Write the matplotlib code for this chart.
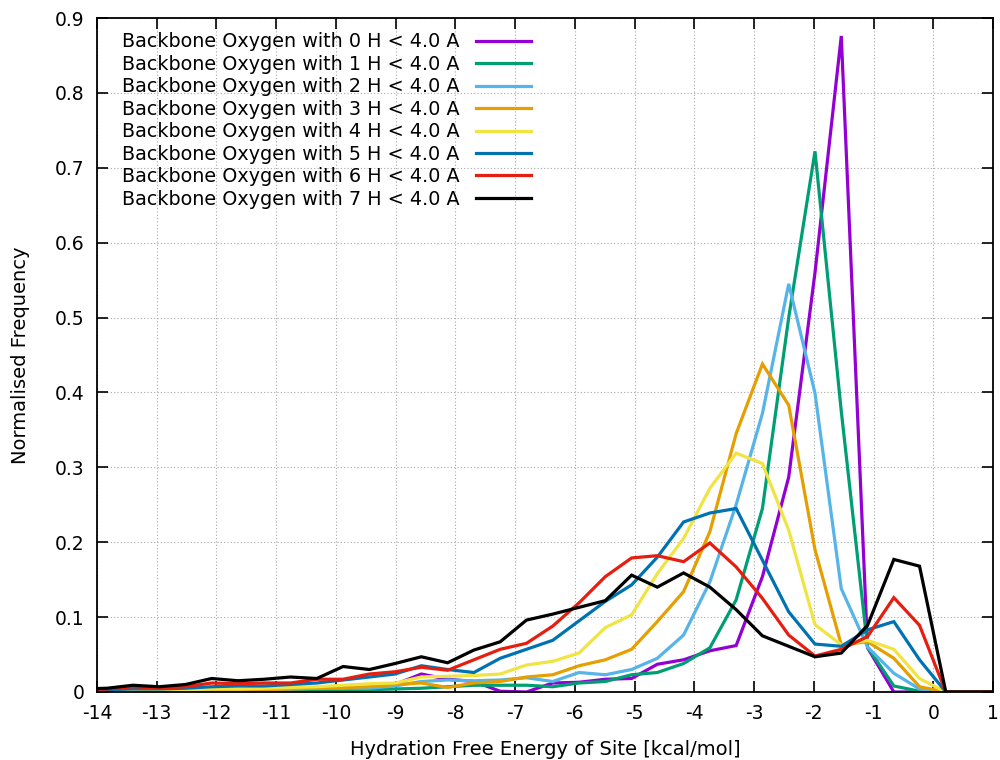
import matplotlib.pyplot as plt
import numpy as np

# bin centres of the hydration free energy histogram [kcal/mol]
energy = [-14.27, -13.83, -13.40, -12.96, -12.52, -12.08, -11.64, -11.20,
          -10.76, -10.32, -9.88, -9.44, -9.01, -8.57, -8.13, -7.69,
          -7.25, -6.81, -6.37, -5.93, -5.49, -5.05, -4.62, -4.18,
          -3.74, -3.30, -2.86, -2.42, -1.98, -1.54, -1.10, -0.66,
          -0.23, 0.21, 0.65, 1.09]

h0 = [0.001, 0.001, 0.000, 0.001, 0.000, 0.002, 0.001, 0.002,
      0.001, 0.002, 0.001, 0.004, 0.010, 0.024, 0.017, 0.014,
      0.001, 0.000, 0.012, 0.013, 0.017, 0.018, 0.037, 0.043,
      0.055, 0.062, 0.154, 0.287, 0.560, 0.876, 0.059, 0.000,
      0.000, 0.000, 0.000, 0.000]
h1 = [0.001, 0.000, 0.001, 0.001, 0.001, 0.001, 0.002, 0.001,
      0.002, 0.002, 0.001, 0.003, 0.004, 0.005, 0.007, 0.009,
      0.009, 0.009, 0.007, 0.012, 0.014, 0.023, 0.026, 0.038,
      0.059, 0.123, 0.245, 0.500, 0.722, 0.375, 0.060, 0.008,
      0.001, 0.000, 0.000, 0.000]
h2 = [0.001, 0.001, 0.002, 0.001, 0.002, 0.003, 0.002, 0.003,
      0.004, 0.005, 0.005, 0.005, 0.008, 0.014, 0.016, 0.015,
      0.016, 0.019, 0.014, 0.026, 0.023, 0.030, 0.045, 0.076,
      0.147, 0.250, 0.372, 0.545, 0.399, 0.138, 0.060, 0.025,
      0.004, 0.000, 0.000, 0.000]
h3 = [0.001, 0.001, 0.001, 0.002, 0.002, 0.002, 0.003, 0.003,
      0.004, 0.005, 0.006, 0.007, 0.010, 0.012, 0.006, 0.012,
      0.014, 0.020, 0.023, 0.035, 0.043, 0.057, 0.094, 0.134,
      0.214, 0.345, 0.438, 0.383, 0.190, 0.063, 0.067, 0.045,
      0.007, 0.000, 0.000, 0.000]
h4 = [0.001, 0.001, 0.002, 0.002, 0.003, 0.004, 0.004, 0.005,
      0.006, 0.007, 0.009, 0.011, 0.012, 0.020, 0.021, 0.022,
      0.024, 0.036, 0.041, 0.052, 0.086, 0.103, 0.158, 0.205,
      0.272, 0.319, 0.305, 0.216, 0.090, 0.063, 0.069, 0.057,
      0.018, 0.000, 0.000, 0.000]
h5 = [0.002, 0.003, 0.004, 0.004, 0.005, 0.007, 0.008, 0.008,
      0.010, 0.012, 0.016, 0.020, 0.024, 0.035, 0.030, 0.026,
      0.045, 0.057, 0.069, 0.095, 0.121, 0.143, 0.180, 0.227,
      0.239, 0.245, 0.176, 0.107, 0.064, 0.061, 0.083, 0.094,
      0.043, 0.000, 0.000, 0.000]
h6 = [0.003, 0.004, 0.007, 0.005, 0.007, 0.012, 0.011, 0.012,
      0.012, 0.017, 0.017, 0.024, 0.027, 0.033, 0.029, 0.043,
      0.057, 0.065, 0.088, 0.119, 0.154, 0.179, 0.182, 0.174,
      0.199, 0.167, 0.125, 0.076, 0.048, 0.057, 0.074, 0.126,
      0.089, 0.000, 0.000, 0.000]
h7 = [0.004, 0.005, 0.009, 0.007, 0.010, 0.018, 0.015, 0.017,
      0.020, 0.018, 0.034, 0.030, 0.038, 0.047, 0.039, 0.056,
      0.067, 0.096, 0.104, 0.113, 0.122, 0.156, 0.140, 0.159,
      0.140, 0.110, 0.075, 0.061, 0.047, 0.052, 0.089, 0.177,
      0.168, 0.000, 0.000, 0.000]

series = [h0, h1, h2, h3, h4, h5, h6, h7]
colors = ['#9400d3', '#009e73', '#56b4e9', '#e69f00',
          '#f0e442', '#0072b2', '#e51e10', '#000000']
labels = ['Backbone Oxygen with %d H < 4.0 A' % n for n in range(8)]

plt.rcParams['font.family'] = 'DejaVu Sans'
plt.rcParams['axes.unicode_minus'] = False

fig = plt.figure(figsize=(10, 7.6), dpi=100)
ax = fig.add_axes([0.097, 0.0895, 0.896, 0.8868])

for y, c, lab in zip(series, colors, labels):
    ax.plot(energy, y, color=c, lw=2.3, label=lab, solid_joinstyle='miter')

ax.set_xlim(-14, 1)
ax.set_ylim(0, 0.9)
ax.set_xticks(np.arange(-14, 2, 1))
ax.set_yticks(np.arange(0, 0.91, 0.1))
ax.set_yticklabels(['0'] + ['%.1f' % v for v in np.arange(0.1, 0.91, 0.1)])
ax.tick_params(direction='in', length=8, width=1.2, top=True, right=True,
               labelsize=13.5, pad=9)
ax.grid(True, color='#a8a8a8', linestyle=(0, (1, 2)), lw=0.8)
for s in ax.spines.values():
    s.set_linewidth(1.3)

ax.set_xlabel('Hydration Free Energy of Site [kcal/mol]', fontsize=14,
              labelpad=12)
ax.set_ylabel('Normalised Frequency', fontsize=14, labelpad=18)

leg = ax.legend(loc='upper left', bbox_to_anchor=(0.019, 0.99),
                frameon=False, markerfirst=False, fontsize=13.8,
                handlelength=2.9, handletextpad=0.85, labelspacing=0.18,
                borderaxespad=0)

plt.savefig('out.png', dpi=100)
